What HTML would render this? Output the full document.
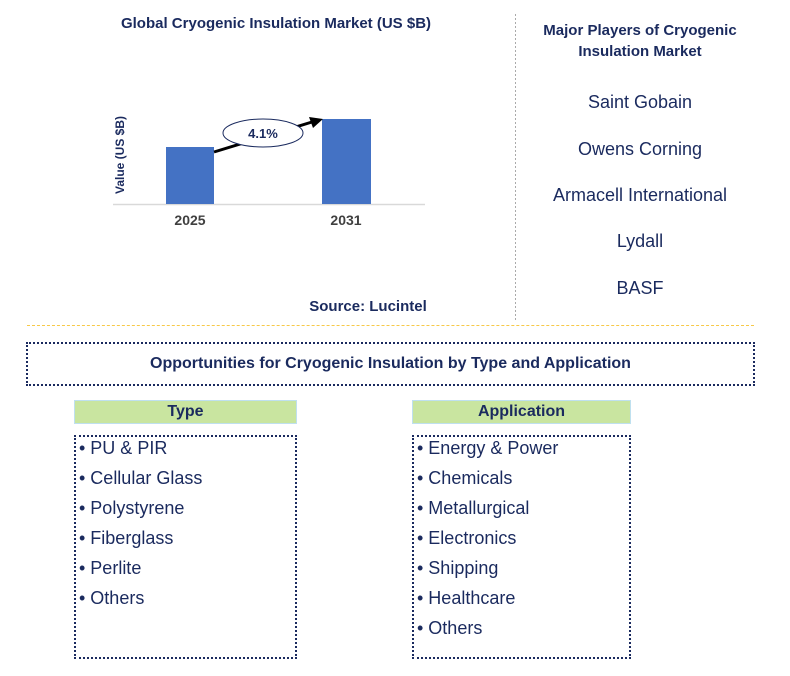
<!DOCTYPE html><html><head><style>
body{margin:0;width:790px;height:676px;background:#fff;position:relative;font-family:"Liberation Sans",sans-serif;overflow:hidden}
.a{position:absolute}
.t{color:#1a2a5e;font-weight:bold;font-size:15px}
.p{color:#1a2a5e;font-size:18px;width:250px;text-align:center;left:515px}
.hd{background:#c9e5a0;border:1px solid #bfe0ef;color:#1a2a5e;font-weight:bold;font-size:16px;text-align:center;line-height:22px;box-sizing:border-box;height:24px}
.lb{border:2px dotted #1a2a5e;box-sizing:border-box}
.li{color:#1a2a5e;font-size:18px;line-height:30px;margin-top:-4px;padding-left:3px}
</style></head><body>
<div class="a t" style="left:0;width:552px;text-align:center;top:15px">Global Cryogenic Insulation Market (US $B)</div>
<svg class="a" style="left:0;top:0" width="516" height="320">
<line x1="113" y1="204.5" x2="425" y2="204.5" stroke="#d9d9d9" stroke-width="1.5"/>
<rect x="166" y="147" width="48" height="57" fill="#4472c4"/>
<rect x="322" y="119" width="49" height="85" fill="#4472c4"/>
<line x1="214" y1="152" x2="312" y2="122" stroke="#000" stroke-width="3"/>
<polygon points="323,119 309,117 313,128" fill="#000"/>
<ellipse cx="263" cy="133" rx="40" ry="14" fill="#fff" stroke="#1a2a5e" stroke-width="1"/>
<text x="263" y="138" text-anchor="middle" font-size="13" font-weight="bold" fill="#1a2a5e" font-family="Liberation Sans">4.1%</text>
<text x="190" y="225" text-anchor="middle" font-size="14" font-weight="bold" fill="#404040" font-family="Liberation Sans">2025</text>
<text x="346" y="225" text-anchor="middle" font-size="14" font-weight="bold" fill="#404040" font-family="Liberation Sans">2031</text>
<text transform="translate(124,155) rotate(-90)" text-anchor="middle" font-size="12" font-weight="bold" fill="#1a2a5e" font-family="Liberation Sans">Value (US $B)</text>
<text x="368" y="311" text-anchor="middle" font-size="15" font-weight="bold" fill="#1a2a5e" font-family="Liberation Sans">Source: Lucintel</text>
<line x1="515.5" y1="14" x2="515.5" y2="324" stroke="#aaa" stroke-dasharray="2,2"/>
</svg>
<div class="a t" style="left:515px;width:250px;text-align:center;top:20px;line-height:21px">Major Players of Cryogenic Insulation Market</div>
<div class="a p" style="top:92px">Saint Gobain</div>
<div class="a p" style="top:139px">Owens Corning</div>
<div class="a p" style="top:185px">Armacell International</div>
<div class="a p" style="top:231px">Lydall</div>
<div class="a p" style="top:278px">BASF</div>
<div class="a" style="left:27px;top:325px;width:727px;border-top:1.5px dashed #f7c948"></div>
<div class="a lb t" style="left:26px;top:342px;width:729px;height:44px;text-align:center;line-height:40px;font-size:16px">Opportunities for Cryogenic Insulation by Type and Application</div>
<div class="a hd" style="left:74px;top:400px;width:223px">Type</div>
<div class="a lb" style="left:74px;top:435px;width:223px;height:224px"><div class="li">• PU &amp; PIR<br>• Cellular Glass<br>• Polystyrene<br>• Fiberglass<br>• Perlite<br>• Others</div></div>
<div class="a hd" style="left:412px;top:400px;width:219px">Application</div>
<div class="a lb" style="left:412px;top:435px;width:219px;height:224px"><div class="li">• Energy &amp; Power<br>• Chemicals<br>• Metallurgical<br>• Electronics<br>• Shipping<br>• Healthcare<br>• Others</div></div>
</body></html>
